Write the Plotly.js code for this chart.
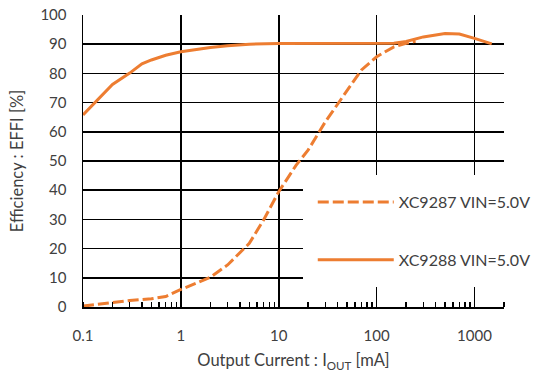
<!DOCTYPE html>
<html>
<head>
<meta charset="utf-8">
<script src="https://cdn.plot.ly/plotly-3.0.1.min.js"></script>
<style>html,body{margin:0;padding:0;background:#fff;}#chart{width:541px;height:374px;}</style>
</head>
<body>
<div id="chart"></div>
<script>
// XC9287 VIN=5.0V (dashed)
const iout9287 = [0.1, 0.2, 0.3, 0.5, 0.7, 1, 1.5, 2, 3, 5, 7, 10, 15, 20, 30, 50, 70, 100, 150, 200, 250];
const eff9287  = [0.3, 1.5, 2.2, 2.8, 3.6, 6.0, 8.3, 10.2, 14.4, 21.8, 29.8, 39.5, 48.5, 53.8, 63.5, 74.3, 81.2, 85.7, 89.1, 90.3, 91.0];
// XC9288 VIN=5.0V (solid)
const iout9288 = [0.1, 0.15, 0.2, 0.3, 0.4, 0.5, 0.7, 1, 2, 3, 5, 10, 20, 50, 100, 150, 200, 300, 500, 700, 1000, 1500];
const eff9288  = [65.8, 72.0, 76.2, 80.1, 83.3, 84.6, 86.2, 87.4, 88.9, 89.5, 90.0, 90.2, 90.2, 90.2, 90.2, 90.3, 90.9, 92.5, 93.7, 93.5, 92.0, 90.1];
const seriesNames = ['XC9287 VIN=5.0V', 'XC9288 VIN=5.0V'];
const xTickVals = [0.1, 1, 10, 100, 1000];
const xTickText = ['0.1', '1', '10', '100', '1000'];
const yTickVals = [0, 10, 20, 30, 40, 50, 60, 70, 80, 90, 100];

const orange = '#ED7D31';
const textColor = '#404040';
const fontFam = 'Lato, "Open Sans", sans-serif';

const traces = [
  {x: iout9287, y: eff9287, name: seriesNames[0], type: 'scatter', mode: 'lines',
   legendgroup: 'a', line: {color: orange, width: 3, dash: '11px,4px'}},
  {x: iout9288, y: eff9288, name: seriesNames[1], type: 'scatter', mode: 'lines',
   legendgroup: 'b', line: {color: orange, width: 3}}
];

const layout = {
  width: 541, height: 374,
  margin: {l: 83, r: 37, t: 15, b: 67, autoexpand: false},
  paper_bgcolor: '#fff', plot_bgcolor: '#fff',
  font: {family: fontFam, size: 15, color: textColor},
  showlegend: true,
  legend: {x: 0.522, y: 0.452, xanchor: 'left', yanchor: 'top', bgcolor: '#fff',
           bordercolor: '#fff', borderwidth: 10, itemwidth: 76, tracegroupgap: 34, traceorder: 'grouped',
           font: {family: fontFam, size: 16, color: textColor}},
  xaxis: {type: 'log', range: [-1, Math.log10(2000)], tickvals: xTickVals, ticktext: xTickText,
          showgrid: true, gridcolor: '#000', gridwidth: 1.5, showline: true, linecolor: '#000', linewidth: 1.5,
          ticks: '', ticklabelstandoff: 14, zeroline: false,
          minor: {ticks: 'inside', ticklen: 5, tickcolor: '#000', tickwidth: 1.5, dtick: 'D1', showgrid: false},
          title: {text: 'Output Current : I<sub>OUT</sub> [mA]', standoff: 12, font: {size: 16.5, color: textColor}}},
  yaxis: {range: [0, 100], tickvals: yTickVals, showgrid: true, gridcolor: '#000', gridwidth: 1.5,
          showline: true, linecolor: '#000', linewidth: 1.5, ticks: '', ticklabelstandoff: 12, zeroline: false,
          title: {text: 'Efficiency : EFFI [%]', standoff: 12, font: {size: 16.5, color: textColor}}}
};

Plotly.newPlot('chart', traces, layout, {displayModeBar: false, staticPlot: true});
</script>
</body>
</html>
